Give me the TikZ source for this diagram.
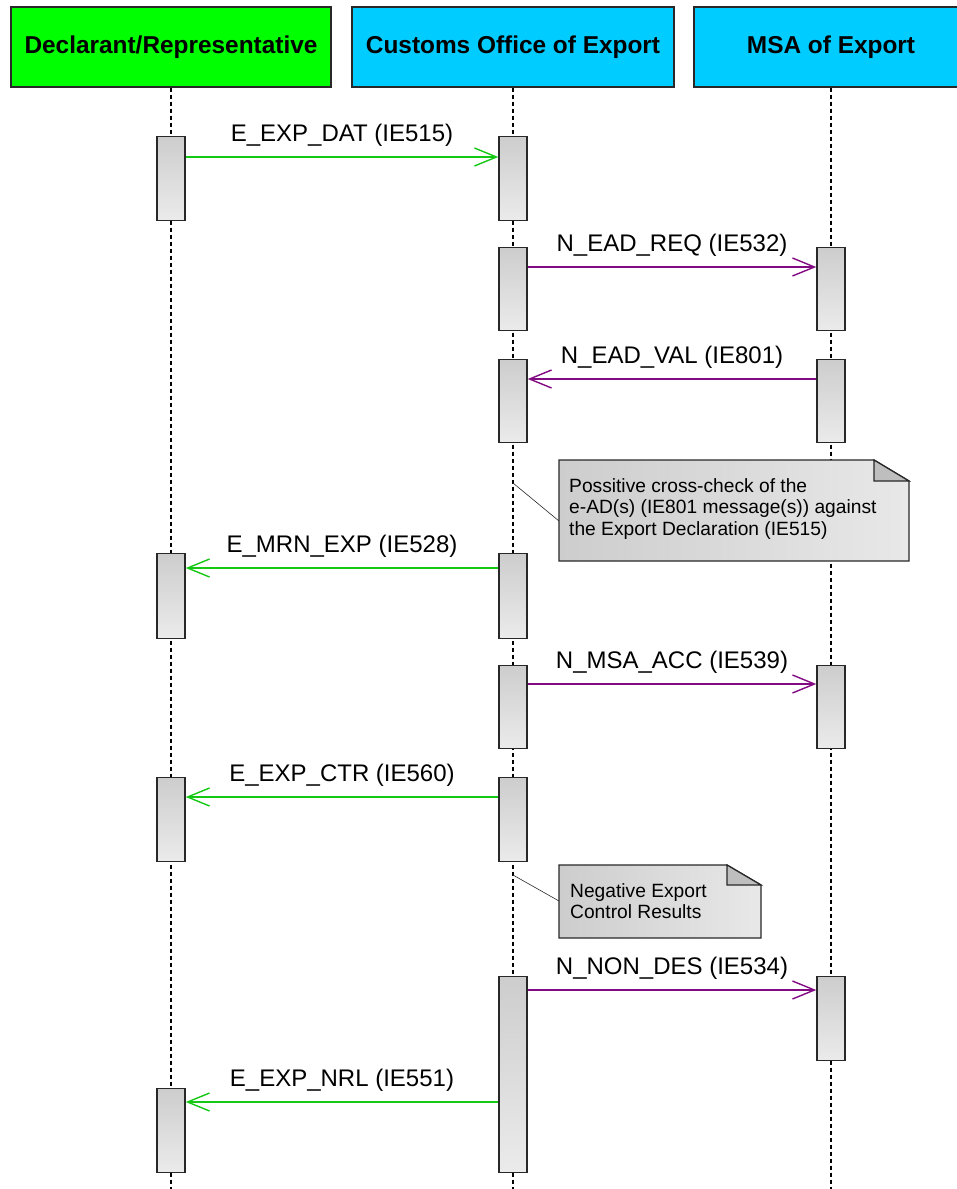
\documentclass[tikz,border=0pt]{standalone}
\usepackage{fontspec}
\setmainfont{Liberation Sans}
\usetikzlibrary{arrows.meta,calc}
\definecolor{hgreen}{RGB}{0,255,0}
\definecolor{hblue}{RGB}{0,204,255}
\definecolor{mgreen}{RGB}{20,200,20}
\definecolor{mpurple}{RGB}{130,10,130}
\definecolor{bord}{RGB}{40,40,40}
\definecolor{actTop}{RGB}{205,205,205}
\definecolor{actBot}{RGB}{235,235,235}
\definecolor{noteL}{RGB}{205,205,205}
\definecolor{noteR}{RGB}{232,232,232}
\definecolor{fold}{RGB}{190,190,190}
\tikzset{
  header/.style={draw=bord, line width=1.4pt, minimum height=80pt, inner sep=0pt,
    font=\fontsize{24.4}{28}\selectfont\bfseries},
  lifeline/.style={draw=black, line width=1.3pt, dash pattern=on 4pt off 3pt},
  actbox/.style={draw=bord, line width=1.4pt, minimum width=28pt, inner sep=0pt,
    top color=actTop, bottom color=actBot, anchor=north},
  msglabel/.style={font=\fontsize{24}{28}\selectfont, anchor=base, yshift=16pt, inner sep=0pt},
  gmsg/.style={draw=mgreen, line width=1.4pt, -{Straight Barb[length=22pt,width=18pt,line width=1.4pt]}},
  pmsg/.style={draw=mpurple, line width=1.4pt, -{Straight Barb[length=22pt,width=18pt,line width=1.4pt]}},
  notebody/.style={draw=bord, line width=1.4pt, left color=noteL, right color=noteR},
  notefold/.style={draw=bord, line width=1.2pt, fill=fold},
  notetext/.style={font=\fontsize{19.2}{21.6}\selectfont, align=left, anchor=north west, inner sep=0pt},
  notelink/.style={draw=bord, line width=0.6pt}
}
\begin{document}
\begin{tikzpicture}[x=1pt,y=-1pt]
\useasboundingbox (0,0) rectangle (957,1189);
\clip (0,0) rectangle (957,1189);
% headers
\node[header, fill=hgreen, minimum width=320pt] (h1) at (171,47) {Declarant/Representative};
\node[header, fill=hblue, minimum width=322pt] (h2) at (513,47) {Customs Office of Export};
\node[header, fill=hblue, minimum width=274pt] (h3) at (831,47) {MSA of Export};
% lifeline ends
\coordinate (e1) at (171,1192);
\coordinate (e2) at (513,1192);
\coordinate (e3) at (831,1192);
\draw[lifeline] (h1.south) -- (e1);
\draw[lifeline] (h2.south) -- (e2);
\draw[lifeline] (h3.south) -- (e3);
% note connectors
\coordinate (n1a) at (513,483);
\coordinate (n1b) at (559,521);
\draw[notelink] (n1a) -- (n1b);
\coordinate (n2a) at (513,875);
\coordinate (n2b) at (559,901);
\draw[notelink] (n2a) -- (n2b);
% activation boxes
\node[actbox, minimum height=84pt] (a1) at (171,136) {};
\node[actbox, minimum height=84pt] (b1) at (513,136) {};
\node[actbox, minimum height=83pt] (b2) at (513,247) {};
\node[actbox, minimum height=83pt] (c2) at (831,247) {};
\node[actbox, minimum height=83pt] (b3) at (513,359) {};
\node[actbox, minimum height=83pt] (c3) at (831,359) {};
\node[actbox, minimum height=85pt] (a4) at (171,553) {};
\node[actbox, minimum height=85pt] (b4) at (513,553) {};
\node[actbox, minimum height=83pt] (b5) at (513,665) {};
\node[actbox, minimum height=83pt] (c5) at (831,665) {};
\node[actbox, minimum height=84pt] (a6) at (171,777) {};
\node[actbox, minimum height=84pt] (b6) at (513,777) {};
\node[actbox, minimum height=196pt] (b7) at (513,976) {};
\node[actbox, minimum height=84pt] (c7) at (831,976) {};
\node[actbox, minimum height=84pt] (a8) at (171,1088) {};
% messages
\draw[gmsg] ($(a1.north east)+(0,21)$) -- ($(b1.north west)+(0,21)$) node[msglabel, midway, text=black] {E\_EXP\_DAT (IE515)};
\draw[pmsg] ($(b2.north east)+(0,20)$) -- ($(c2.north west)+(0,20)$) node[msglabel, midway, text=black] {N\_EAD\_REQ (IE532)};
\draw[pmsg] ($(c3.north west)+(0,20)$) -- ($(b3.north east)+(0,20)$) node[msglabel, midway, text=black] {N\_EAD\_VAL (IE801)};
\draw[gmsg] ($(b4.north west)+(0,15)$) -- ($(a4.north east)+(0,15)$) node[msglabel, midway, text=black] {E\_MRN\_EXP (IE528)};
\draw[pmsg] ($(b5.north east)+(0,19)$) -- ($(c5.north west)+(0,19)$) node[msglabel, midway, text=black] {N\_MSA\_ACC (IE539)};
\draw[gmsg] ($(b6.north west)+(0,20)$) -- ($(a6.north east)+(0,20)$) node[msglabel, midway, text=black] {E\_EXP\_CTR (IE560)};
\draw[pmsg] ($(b7.north east)+(0,14)$) -- ($(c7.north west)+(0,14)$) node[msglabel, midway, text=black] {N\_NON\_DES (IE534)};
\draw[gmsg] ($(b7.north west)+(0,126)$) -- ($(a8.north east)+(0,14)$) node[msglabel, midway, text=black] {E\_EXP\_NRL (IE551)};
% note 1
\path[notebody] (559,460) -- (874,460) -- (909,481) -- (909,561) -- (559,561) -- cycle;
\path[notefold] (874,460) -- (874,481) -- (909,481) -- cycle;
\node[notetext] (t1) at (569,478) {Possitive cross-check of the\\e-AD(s) (IE801 message(s)) against\\the Export Declaration (IE515)};
% note 2
\path[notebody] (559,865) -- (727,865) -- (761,885) -- (761,938) -- (559,938) -- cycle;
\path[notefold] (727,865) -- (727,885) -- (761,885) -- cycle;
\node[notetext] (t2) at (570,883) {Negative Export\\Control Results};
\end{tikzpicture}
\end{document}
